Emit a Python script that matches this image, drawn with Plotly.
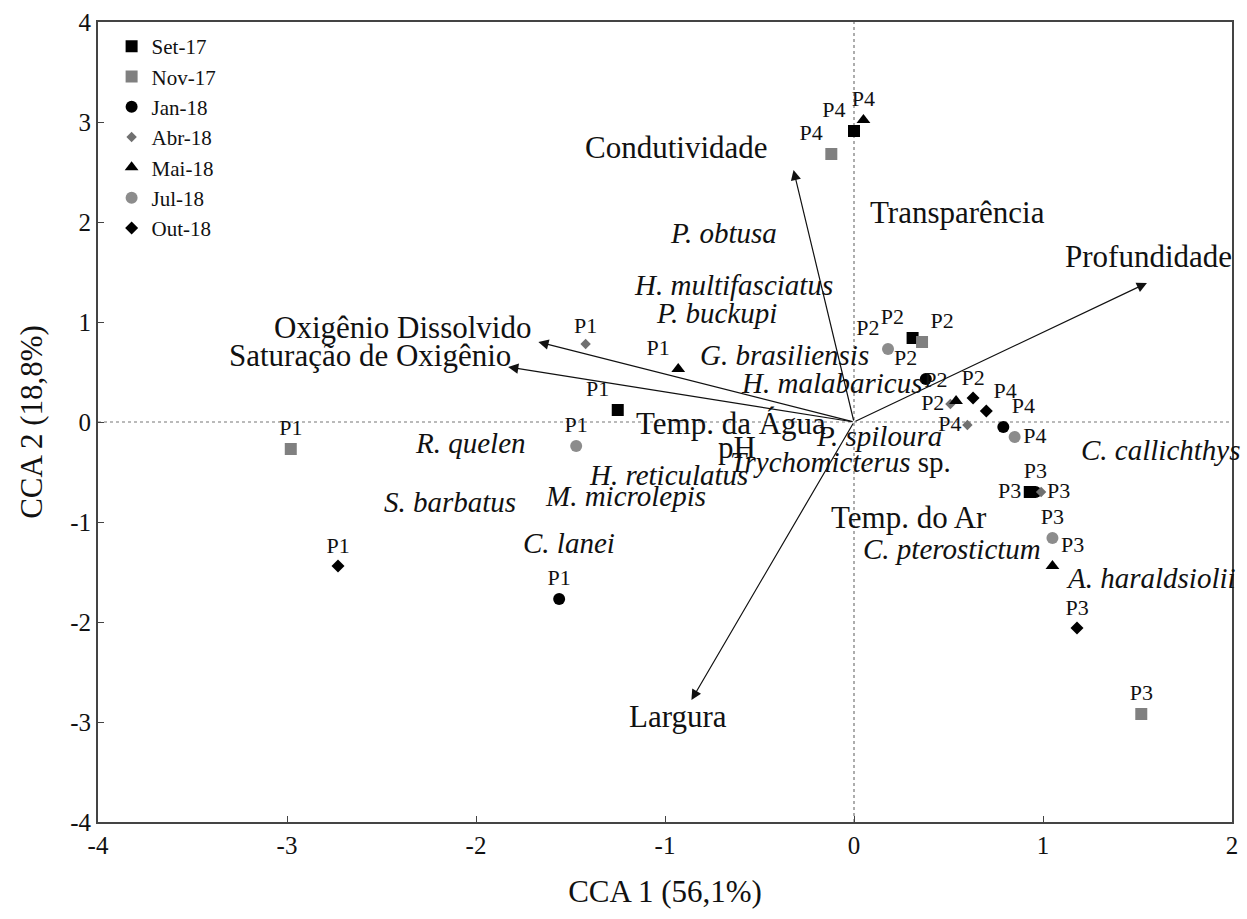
import plotly.graph_objects as go

# ---------------- data ----------------
periods = ["Set-17", "Nov-17", "Jan-18", "Abr-18", "Mai-18", "Jul-18", "Out-18"]
sym = ["square", "square", "circle", "diamond", "triangle-up", "circle", "diamond"]
col = ["#000000", "#808080", "#000000", "#707070", "#000000", "#8c8c8c", "#000000"]
msize = [12, 12, 12, 8, 12, 12, 10]

set17_sites = ["P4", "P2", "P1", "P3"]
set17_x = [0.00, 0.31, -1.25, 0.93]
set17_y = [2.91, 0.84, 0.12, -0.70]
set17_pos = ["top left", "top left", "top left", "middle left"]

nov17_sites = ["P4", "P2", "P1", "P3"]
nov17_x = [-0.12, 0.36, -2.98, 1.52]
nov17_y = [2.68, 0.80, -0.27, -2.92]
nov17_pos = ["top left", "top right", "top center", "top center"]

jan18_sites = ["P2", "P4", "P1", "P3"]
jan18_x = [0.38, 0.79, -1.56, 0.96]
jan18_y = [0.43, -0.05, -1.77, -0.70]
jan18_pos = ["top left", "top right", "top center", "top center"]

abr18_sites = ["P1", "P2", "P4", "P3"]
abr18_x = [-1.42, 0.51, 0.60, 0.99]
abr18_y = [0.78, 0.18, -0.03, -0.70]
abr18_pos = ["top center", "middle left", "middle left", "middle right"]

mai18_sites = ["P4", "P1", "P2", "P3"]
mai18_x = [0.05, -0.93, 0.54, 1.05]
mai18_y = [3.02, 0.53, 0.21, -1.44]
mai18_pos = ["top center", "top left", "top left", "top right"]

jul18_sites = ["P2", "P1", "P4", "P3"]
jul18_x = [0.18, -1.47, 0.85, 1.05]
jul18_y = [0.73, -0.24, -0.15, -1.16]
jul18_pos = ["top left", "top center", "middle right", "top center"]

out18_sites = ["P2", "P4", "P1", "P3"]
out18_x = [0.63, 0.70, -2.73, 1.18]
out18_y = [0.24, 0.11, -1.44, -2.06]
out18_pos = ["top center", "top right", "top center", "top center"]

series = [
    (set17_x, set17_y, set17_sites, set17_pos),
    (nov17_x, nov17_y, nov17_sites, nov17_pos),
    (jan18_x, jan18_y, jan18_sites, jan18_pos),
    (abr18_x, abr18_y, abr18_sites, abr18_pos),
    (mai18_x, mai18_y, mai18_sites, mai18_pos),
    (jul18_x, jul18_y, jul18_sites, jul18_pos),
    (out18_x, out18_y, out18_sites, out18_pos),
]

# environmental vectors (arrow tips)
arrow_names = ["Condutividade", "Profundidade", "Oxigênio Dissolvido", "Saturação de Oxigênio", "Largura"]
arrow_x = [-0.32, 1.55, -1.67, -1.83, -0.86]
arrow_y = [2.52, 1.39, 0.80, 0.55, -2.78]
arrow_origin_x = 0.0
arrow_origin_y = 0.0

# environmental variable labels
env_labels = ["Condutividade", "Transparência", "Profundidade", "Oxigênio Dissolvido",
              "Saturação de Oxigênio", "Temp. da Água", "pH", "Temp. do Ar", "Largura"]
env_lx = [-0.94, 0.55, 1.56, -2.39, -2.56, -0.65, -0.62, 0.29, -0.93]
env_ly = [2.75, 2.10, 1.66, 0.95, 0.67, -0.01, -0.25, -0.95, -2.94]

# species labels
species = ["<i>P. obtusa</i>", "<i>H. multifasciatus</i>", "<i>P. buckupi</i>",
           "<i>G. brasiliensis</i>", "<i>H. malabaricus</i>", "<i>P. spiloura</i>",
           "<i>Trychomicterus</i> sp.", "<i>C. callichthys</i>", "<i>C. pterostictum</i>",
           "<i>A. haraldsiolii</i>", "<i>R. quelen</i>", "<i>H. reticulatus</i>",
           "<i>M. microlepis</i>", "<i>S. barbatus</i>", "<i>C. lanei</i>"]
sp_x = [-0.69, -0.64, -0.73, -0.37, -0.12, 0.13, -0.07, 1.62, 0.52, 1.57, -2.03, -0.98, -1.21, -2.14, -1.51]
sp_y = [1.89, 1.37, 1.09, 0.67, 0.39, -0.14, -0.40, -0.28, -1.27, -1.56, -0.21, -0.53, -0.74, -0.80, -1.21]

x_ticks = [-4, -3, -2, -1, 0, 1, 2]
y_ticks = [-4, -3, -2, -1, 0, 1, 2, 3, 4]

FONT = "Liberation Serif, Times New Roman, serif"

# ---------------- figure ----------------
fig = go.Figure()

for i, (xs, ys, st, ps) in enumerate(series):
    fig.add_trace(go.Scatter(
        x=xs, y=ys, mode="markers+text", name=periods[i],
        text=st, textposition=ps,
        textfont=dict(family=FONT, size=22, color="#111111"),
        marker=dict(symbol=sym[i], color=col[i], size=msize[i], line=dict(width=0)),
    ))

for ex, ey in zip(arrow_x, arrow_y):
    fig.add_annotation(x=ex, y=ey, ax=arrow_origin_x, ay=arrow_origin_y,
                       xref="x", yref="y", axref="x", ayref="y",
                       showarrow=True, arrowhead=2, arrowsize=1.7, arrowwidth=1.2,
                       arrowcolor="#111111", text="")

for t, lx, ly in zip(env_labels, env_lx, env_ly):
    fig.add_annotation(x=lx, y=ly, xref="x", yref="y", text=t, showarrow=False,
                       font=dict(family=FONT, size=31, color="#111111"))

for t, lx, ly in zip(species, sp_x, sp_y):
    fig.add_annotation(x=lx, y=ly, xref="x", yref="y", text=t, showarrow=False,
                       font=dict(family=FONT, size=29, color="#111111"))

# dotted zero lines
fig.add_shape(type="line", x0=0, x1=0, y0=0, y1=1, xref="x", yref="paper",
              line=dict(color="#777777", width=1.2, dash="dot"), layer="below")
fig.add_shape(type="line", x0=0, x1=1, y0=0, y1=0, xref="paper", yref="y",
              line=dict(color="#777777", width=1.2, dash="dot"), layer="below")

axis_common = dict(showgrid=False, zeroline=False, showline=True, mirror=True,
                   linecolor="#444444", linewidth=2, ticks="inside", ticklen=6,
                   tickcolor="#444444", tickfont=dict(family=FONT, size=25, color="#111111"))

fig.update_layout(
    width=1247, height=919,
    plot_bgcolor="white", paper_bgcolor="white",
    margin=dict(l=98, r=9, t=22, b=97),
    font=dict(family=FONT, color="#111111"),
    xaxis=dict(range=[-4, 2], tickvals=x_ticks, ticktext=[str(v) for v in x_ticks],
               title=dict(text="CCA 1 (56,1%)", font=dict(family=FONT, size=31), standoff=22),
               **axis_common),
    yaxis=dict(range=[-4, 4], tickvals=y_ticks, ticktext=[str(v) for v in y_ticks],
               title=dict(text="CCA 2 (18,8%)", font=dict(family=FONT, size=31), standoff=18),
               **axis_common),
    legend=dict(x=0.012, y=0.995, xanchor="left", yanchor="top",
                bgcolor="rgba(0,0,0,0)", font=dict(family=FONT, size=21, color="#111111"),
                tracegroupgap=0),
    showlegend=True,
)

fig.write_html(
    "out.html",
    config={"displayModeBar": False},
    post_script="document.body.style.margin='0';document.documentElement.style.overflow='hidden';",
)
